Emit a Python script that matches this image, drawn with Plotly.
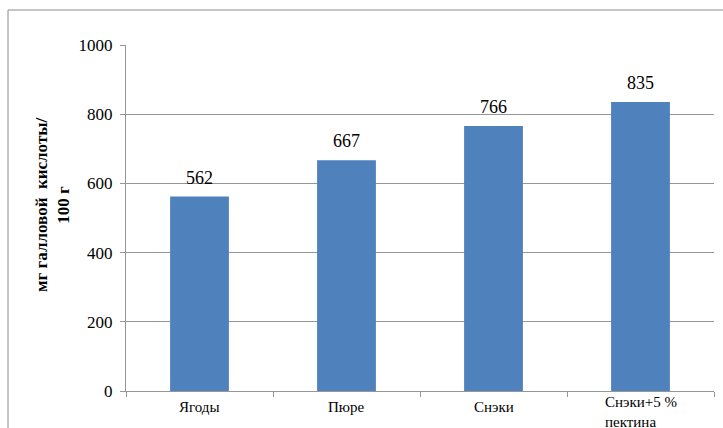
import plotly.graph_objects as go

# Содержание полифенолов в продуктах
categories = ["Ягоды", "Пюре", "Снэки", "Снэки+5 %<br>пектина"]
values = [562, 667, 766, 835]
y_title = "мг галловой  кислоты/<br>100 г"

W, H = 723, 428
L, R, T, B = 126, 9, 45, 37
pw, ph = W - L - R, H - T - B

def px_x(x):
    return (x - L) / pw

def px_y(y):
    return (H - B - y) / ph

bar_color = "#4F81BD"
grid_color = "#969696"
serif = "Liberation Serif"

fig = go.Figure(
    go.Bar(
        x=categories,
        y=values,
        marker=dict(color=bar_color, line=dict(width=0)),
        width=0.4,
        hoverinfo="x+y",
    )
)

# value labels above the bars
annotations = [
    dict(
        x=c,
        y=v,
        xref="x",
        yref="y",
        text=str(v),
        showarrow=False,
        yanchor="bottom",
        yshift=7,
        font=dict(family=serif, size=18, color="#000000"),
    )
    for c, v in zip(categories, values)
]

# category labels under the axis; wrapped labels sit a little lower
annotations += [
    dict(
        x=c,
        y=px_y(412 if "<br>" in c else 407),
        xref="x",
        yref="paper",
        text=c,
        showarrow=False,
        align="left",
        xanchor="center",
        yanchor="middle",
        font=dict(family=serif, size=15, color="#000000"),
    )
    for c in categories
]

annotations.append(
    dict(
        text=y_title,
        xref="paper",
        yref="paper",
        x=px_x(52),
        y=px_y(205),
        textangle=-90,
        showarrow=False,
        font=dict(family=serif, size=17, color="#000000", weight="bold"),
        xanchor="center",
        yanchor="middle",
    )
)

fig.update_layout(
    width=W,
    height=H,
    margin=dict(l=L, r=R, t=T, b=B, autoexpand=False),
    paper_bgcolor="white",
    plot_bgcolor="white",
    showlegend=False,
    font=dict(family=serif, color="#000000"),
    xaxis=dict(
        automargin=False,
        showline=True,
        linecolor=grid_color,
        linewidth=1,
        ticks="outside",
        tickson="boundaries",
        ticklen=5,
        tickcolor=grid_color,
        showticklabels=False,
        showgrid=False,
    ),
    yaxis=dict(
        automargin=False,
        range=[0, 1000],
        dtick=200,
        showline=True,
        linecolor=grid_color,
        linewidth=1,
        ticks="outside",
        ticklen=5,
        tickcolor=grid_color,
        tickfont=dict(family=serif, size=17),
        ticklabelstandoff=4,
        showgrid=True,
        gridcolor=grid_color,
        gridwidth=1,
        zeroline=False,
    ),
    annotations=annotations,
    shapes=[
        dict(
            type="rect",
            xref="paper",
            yref="paper",
            x0=px_x(8),
            x1=px_x(740),
            y0=px_y(450),
            y1=px_y(10),
            line=dict(color="#8C8C8C", width=1),
            fillcolor="rgba(0,0,0,0)",
            layer="below",
        )
    ],
)

fig.write_html("out.html")
